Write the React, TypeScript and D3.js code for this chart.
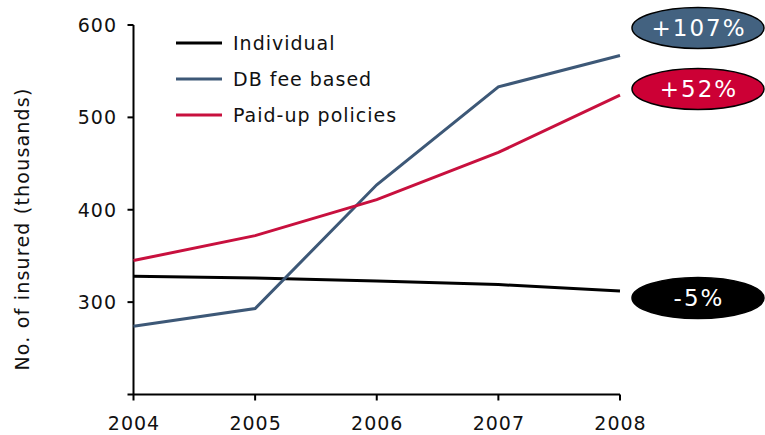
import React from "react";
import * as d3 from "d3";

const years = [2004, 2005, 2006, 2007, 2008];
const individual = [328, 326, 323, 319, 312];
const dbFeeBased = [274, 293, 427, 533, 567];
const paidUp = [345, 372, 411, 462, 524];
const yTicks = [300, 400, 500, 600];

const seriesNames = ["Individual", "DB fee based", "Paid-up policies"];
const seriesColors = ["#000000", "#3d5877", "#c8103e"];
const changeLabels = ["-5%", "+107%", "+52%"];
const badgeColors = ["#000000", "#436280", "#cc0035"];

const W = 765;
const H = 435;
const FONT = "'DejaVu Sans', Verdana, sans-serif";
const FS = 19;
const LS = 1;

export default function App() {
  const x = d3.scaleLinear().domain([2004, 2008]).range([133.5, 620]);
  const y = d3.scaleLinear().domain([200, 600]).range([394.5, 25]);
  const line = d3
    .line<number>()
    .x((_, i) => x(years[i]))
    .y((d) => y(d));

  const all = [individual, dbFeeBased, paidUp];
  const badgeY = [298, 28, 89];

  return (
    <svg
      width={W}
      height={H}
      style={{ position: "absolute", left: 0, top: 0, background: "#fff" }}
      fontFamily={FONT}
    >
      {/* y axis */}
      <line x1={x(2004)} x2={x(2004)} y1={y(600)} y2={y(200)} stroke="#000" strokeWidth={2} />
      {yTicks.map((t) => (
        <g key={t}>
          <line x1={x(2004) - 6} x2={x(2004)} y1={y(t)} y2={y(t)} stroke="#000" strokeWidth={2} />
          <text x={117} y={y(t)} dy="0.36em" textAnchor="end" fontSize={FS} letterSpacing={LS} fill="#111">
            {t}
          </text>
        </g>
      ))}
      {/* x axis */}
      <line x1={x(2004) - 6} x2={x(2008)} y1={y(200)} y2={y(200)} stroke="#000" strokeWidth={2} />
      {years.map((yr) => (
        <g key={yr}>
          <line x1={x(yr)} x2={x(yr)} y1={y(200)} y2={y(200) + 6} stroke="#000" strokeWidth={2} />
          <text x={x(yr) + LS / 2} y={430} textAnchor="middle" fontSize={FS} letterSpacing={LS} fill="#111">
            {yr}
          </text>
        </g>
      ))}
      <text
        transform={`translate(29, 229) rotate(-90)`}
        textAnchor="middle"
        fontSize={FS}
        letterSpacing={1.2}
        fill="#111"
      >
        No. of insured (thousands)
      </text>

      {/* series lines */}
      {all.map((s, i) => (
        <path key={i} d={line(s) ?? ""} fill="none" stroke={seriesColors[i]} strokeWidth={3} />
      ))}

      {/* legend */}
      {seriesNames.map((n, i) => (
        <g key={n} transform={`translate(0, ${43 + i * 36})`}>
          <line x1={176} x2={222} y1={0} y2={0} stroke={seriesColors[i]} strokeWidth={3} />
          <text x={233} y={0} dy="0.36em" fontSize={FS} letterSpacing={LS} fill="#111">
            {n}
          </text>
        </g>
      ))}

      {/* change badges */}
      {changeLabels.map((lbl, i) => (
        <g key={lbl} transform={`translate(698, ${badgeY[i]})`}>
          <ellipse rx={66} ry={20.5} fill={badgeColors[i]} stroke="#000" strokeWidth={1.5} />
          <text x={1} y={0} dy="0.36em" textAnchor="middle" fontSize={23} letterSpacing={2} fill="#fff">
            {lbl}
          </text>
        </g>
      ))}
    </svg>
  );
}
